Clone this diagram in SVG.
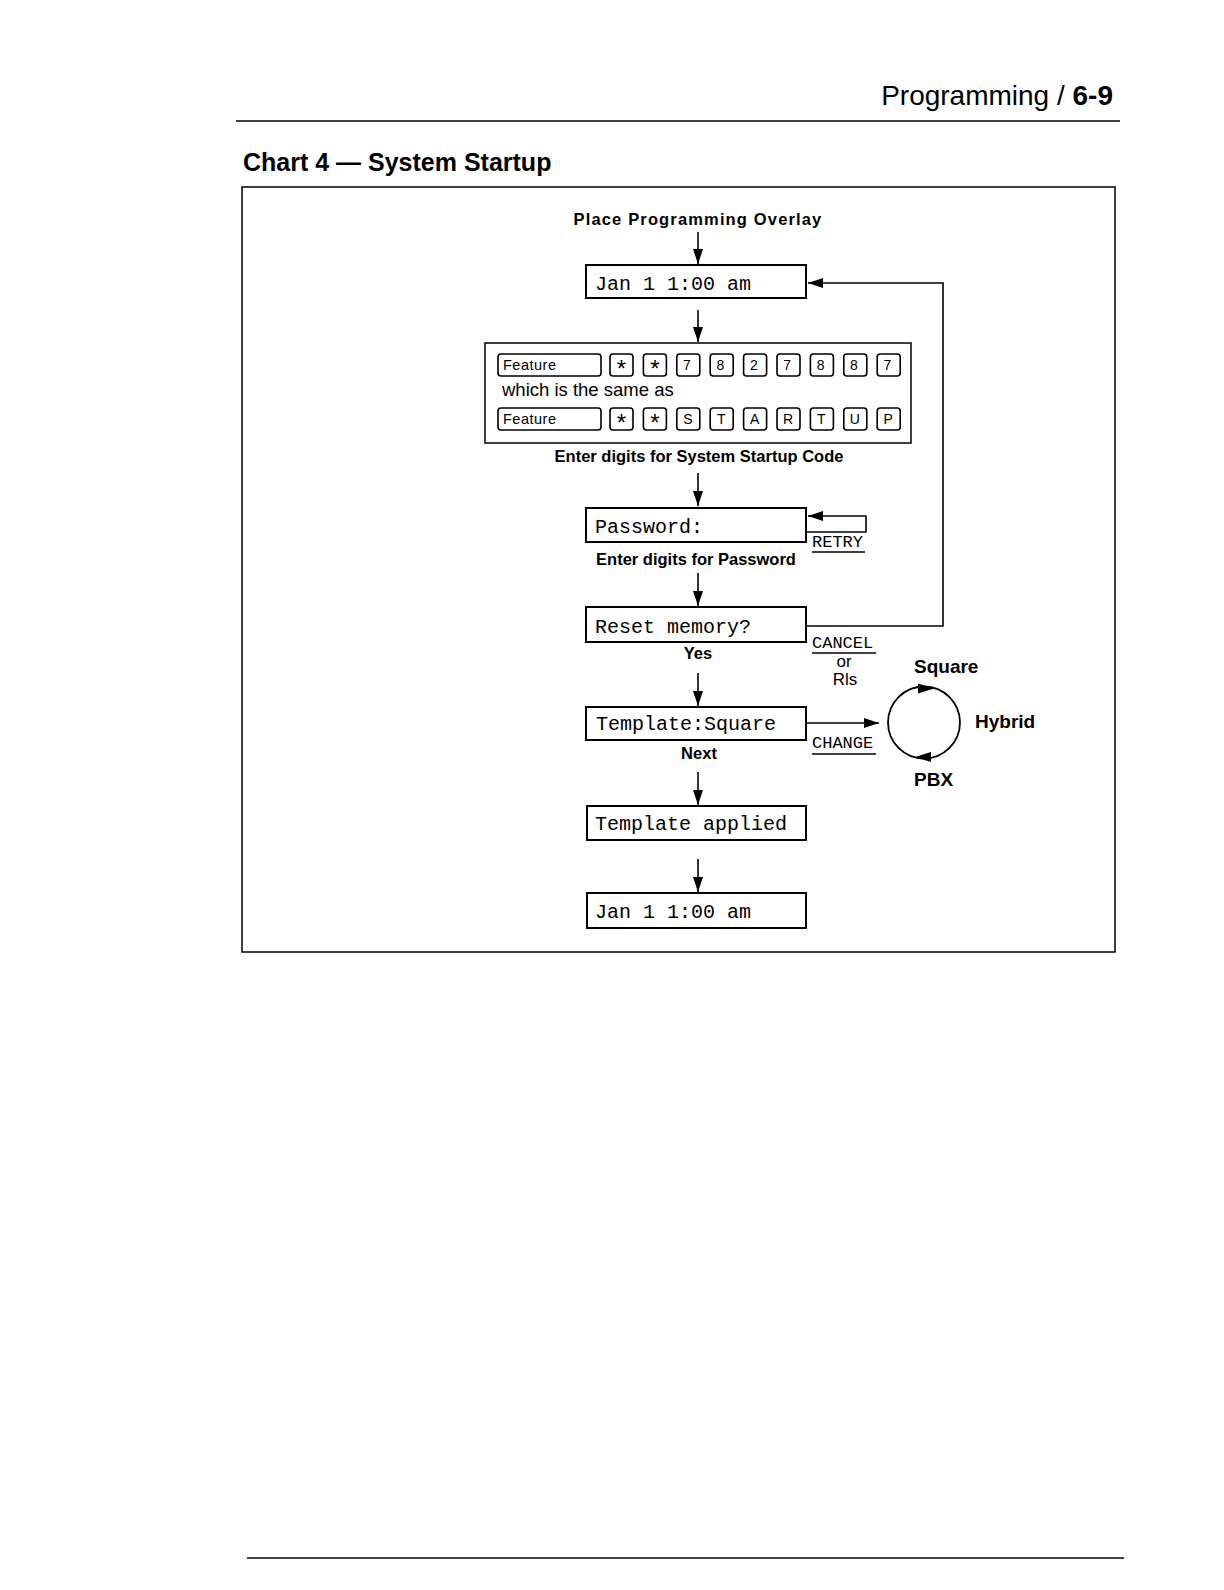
<svg xmlns="http://www.w3.org/2000/svg" width="1224" height="1590" viewBox="0 0 1224 1590">
<defs>
<marker id="ah" markerWidth="15" markerHeight="10" refX="15" refY="5" orient="auto" markerUnits="userSpaceOnUse">
<path d="M0,0 L15,5 L0,10 Z" fill="#000"/>
</marker>
<style>
.bx{fill:#fff;stroke:#000;stroke-width:2}
.key{fill:#fff;stroke:#000;stroke-width:1.6}
.lcd{font-family:"Liberation Mono","DejaVu Sans Mono",monospace;font-size:20px;fill:#000}
.lbl{font-family:"Liberation Sans",Arial,sans-serif;font-weight:bold;font-size:16.5px;fill:#000}
.kt{font-family:"Liberation Sans",Arial,sans-serif;font-size:14px;fill:#000;text-anchor:middle}
.ast{font-family:"Liberation Sans",Arial,sans-serif;font-size:24px;fill:#000;text-anchor:middle}
.ft{font-family:"Liberation Sans",Arial,sans-serif;font-size:14.5px;fill:#000;letter-spacing:0.5px}
.sm{font-family:"Liberation Mono","DejaVu Sans Mono",monospace;font-size:17px;fill:#000}
.cn{fill:none;stroke:#000;stroke-width:1.6}
.rule{stroke:#000;stroke-width:1.5}
.big{font-family:"Liberation Sans",Arial,sans-serif;font-weight:bold;font-size:19px;fill:#000}
</style>
</defs>
<rect width="1224" height="1590" fill="#fff"/>

<g id="header">
<text x="1113" y="105" font-family="Liberation Sans, Arial, sans-serif" font-size="28" text-anchor="end" fill="#000">Programming / <tspan font-weight="bold">6-9</tspan></text>
<line class="rule" x1="236" y1="121" x2="1120" y2="121"/>
<text x="243" y="171" font-family="Liberation Sans, Arial, sans-serif" font-size="25" font-weight="bold" fill="#000">Chart 4 — System Startup</text>
</g>

<rect id="frame" x="242" y="187" width="873" height="765" fill="none" stroke="#000" stroke-width="1.5"/>

<g id="connectors">
<line class="cn" x1="698" y1="232" x2="698" y2="264" marker-end="url(#ah)"/>
<line class="cn" x1="698" y1="310" x2="698" y2="342" marker-end="url(#ah)"/>
<line class="cn" x1="698" y1="473" x2="698" y2="506" marker-end="url(#ah)"/>
<line class="cn" x1="698" y1="573" x2="698" y2="606" marker-end="url(#ah)"/>
<line class="cn" x1="698" y1="673" x2="698" y2="706" marker-end="url(#ah)"/>
<line class="cn" x1="698" y1="772" x2="698" y2="805" marker-end="url(#ah)"/>
<line class="cn" x1="698" y1="859" x2="698" y2="892" marker-end="url(#ah)"/>
<polyline class="cn" points="806,532 866,532 866,516 808,516" marker-end="url(#ah)"/>
<polyline class="cn" points="806,626 943,626 943,283 808,283" marker-end="url(#ah)"/>
<line class="cn" x1="806" y1="723" x2="879" y2="723" marker-end="url(#ah)"/>
</g>

<g id="start-label">
<text x="698" y="225" class="lbl" font-size="15.5" text-anchor="middle" letter-spacing="1.15">Place Programming Overlay</text>
</g>

<g id="node-date1">
<rect class="bx" x="586" y="265" width="220" height="33"/>
<text class="lcd" x="595" y="290">Jan 1 1:00 am</text>
</g>

<g id="node-keys">
<rect x="485" y="343" width="426" height="100" fill="#fff" stroke="#000" stroke-width="1.5"/>
<rect class="key" x="498" y="354" width="103" height="22" rx="3"/>
<text class="ft" x="503" y="370">Feature</text>
<rect class="key" x="610" y="354" width="23" height="22" rx="3"/><text class="ast" x="621.5" y="377">*</text>
<rect class="key" x="643.4" y="354" width="23" height="22" rx="3"/><text class="ast" x="654.9" y="377">*</text>
<rect class="key" x="676.8" y="354" width="23" height="22" rx="3"/><text class="kt" x="687" y="370">7</text>
<rect class="key" x="710.2" y="354" width="23" height="22" rx="3"/><text class="kt" x="720.4" y="370">8</text>
<rect class="key" x="743.6" y="354" width="23" height="22" rx="3"/><text class="kt" x="753.8" y="370">2</text>
<rect class="key" x="777" y="354" width="23" height="22" rx="3"/><text class="kt" x="787.2" y="370">7</text>
<rect class="key" x="810.4" y="354" width="23" height="22" rx="3"/><text class="kt" x="820.6" y="370">8</text>
<rect class="key" x="843.8" y="354" width="23" height="22" rx="3"/><text class="kt" x="854" y="370">8</text>
<rect class="key" x="877.2" y="354" width="23" height="22" rx="3"/><text class="kt" x="887.4" y="370">7</text>
<text x="502" y="396" font-family="Liberation Sans, Arial, sans-serif" font-size="18.5" fill="#000">which is the same as</text>
<rect class="key" x="498" y="408" width="103" height="22" rx="3"/>
<text class="ft" x="503" y="424">Feature</text>
<rect class="key" x="610" y="408" width="23" height="22" rx="3"/><text class="ast" x="621.5" y="431">*</text>
<rect class="key" x="643.4" y="408" width="23" height="22" rx="3"/><text class="ast" x="654.9" y="431">*</text>
<rect class="key" x="676.8" y="408" width="23" height="22" rx="3"/><text class="kt" x="687.8" y="424">S</text>
<rect class="key" x="710.2" y="408" width="23" height="22" rx="3"/><text class="kt" x="721.2" y="424">T</text>
<rect class="key" x="743.6" y="408" width="23" height="22" rx="3"/><text class="kt" x="754.6" y="424">A</text>
<rect class="key" x="777" y="408" width="23" height="22" rx="3"/><text class="kt" x="788" y="424">R</text>
<rect class="key" x="810.4" y="408" width="23" height="22" rx="3"/><text class="kt" x="821.4" y="424">T</text>
<rect class="key" x="843.8" y="408" width="23" height="22" rx="3"/><text class="kt" x="854.8" y="424">U</text>
<rect class="key" x="877.2" y="408" width="23" height="22" rx="3"/><text class="kt" x="888.2" y="424">P</text>
<text class="lbl" x="699" y="462" text-anchor="middle">Enter digits for System Startup Code</text>
</g>

<g id="node-password">
<rect class="bx" x="586" y="508" width="220" height="34"/>
<text class="lcd" x="595" y="533">Password:</text>
<text class="sm" x="812" y="547">RETRY</text>
<line class="rule" x1="812" y1="552" x2="865" y2="552"/>
<text class="lbl" x="696" y="565" text-anchor="middle">Enter digits for Password</text>
</g>

<g id="node-reset">
<rect class="bx" x="586" y="607" width="220" height="35"/>
<text class="lcd" x="595" y="633">Reset memory?</text>
<text class="sm" x="812" y="648">CANCEL</text>
<line class="rule" x1="812" y1="653" x2="876" y2="653"/>
<text x="844" y="667" font-family="Liberation Sans, Arial, sans-serif" font-size="17" text-anchor="middle" fill="#000">or</text>
<text x="845" y="685" font-family="Liberation Sans, Arial, sans-serif" font-size="17" text-anchor="middle" fill="#000">Rls</text>
<text class="lbl" x="698" y="659" text-anchor="middle">Yes</text>
</g>

<g id="node-template">
<rect class="bx" x="586" y="707" width="220" height="33"/>
<text class="lcd" x="596" y="730">Template:Square</text>
<text class="sm" x="812" y="748">CHANGE</text>
<line class="rule" x1="812" y1="754" x2="876" y2="754"/>
<text class="lbl" x="699" y="759" text-anchor="middle">Next</text>
</g>

<g id="node-cycle">
<circle cx="924" cy="722.5" r="36" fill="none" stroke="#000" stroke-width="1.8"/>
<path d="M934,688.5 L918,683.5 L918,693.5 Z" fill="#000"/>
<path d="M915,757 L931,752 L931,762 Z" fill="#000"/>
<text class="big" x="914" y="673">Square</text>
<text class="big" x="975" y="728">Hybrid</text>
<text class="big" x="914" y="786">PBX</text>
</g>

<g id="node-applied">
<rect class="bx" x="587" y="806" width="219" height="34"/>
<text class="lcd" x="595" y="830">Template applied</text>
</g>

<g id="node-date2">
<rect class="bx" x="587" y="893" width="219" height="35"/>
<text class="lcd" x="595" y="918">Jan 1 1:00 am</text>
</g>

<line id="footer-rule" class="rule" x1="247" y1="1558" x2="1124" y2="1558"/>
</svg>
